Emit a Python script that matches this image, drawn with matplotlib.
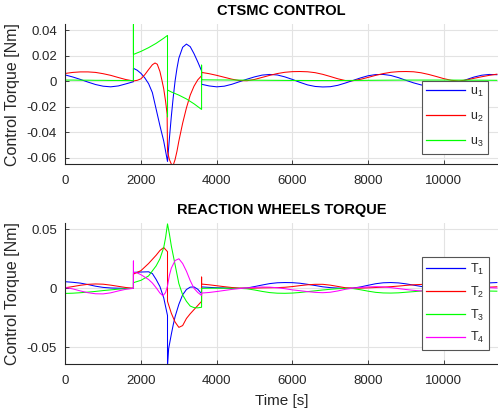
import matplotlib
matplotlib.use("Agg")
import matplotlib.pyplot as plt

plt.rcParams["font.family"] = ["Liberation Sans", "DejaVu Sans"]
plt.rcParams["mathtext.fontset"] = "custom"
plt.rcParams["mathtext.rm"] = "Liberation Sans"
plt.rcParams["mathtext.it"] = "Liberation Sans:italic"

# sample grids (s)
t_pre = list(range(0, 1801, 200))
t_post = list(range(3600, 11401, 200))

# ---- CTSMC control torques [Nm] ----
u1_t = t_pre + [1800, 1900, 2000, 2100, 2200, 2300, 2400, 2500, 2600, 2700,
                2750, 2800, 2850, 2900, 2950, 3000, 3100, 3200, 3300, 3400, 3500, 3600] + t_post
u1_v = [0.0048, 0.0032, 0.0013, -0.0008, -0.0027, -0.0040, -0.0045, -0.0038, -0.0022, -0.0005,
        0.0100, 0.0085, 0.0060, 0.0025, -0.0020, -0.0090, -0.0220, -0.0350, -0.0470, -0.0630,
        -0.0450, -0.0280, -0.0130, 0.0000, 0.0100, 0.0180, 0.0265, 0.0290, 0.0270, 0.0215, 0.0150, 0.0080,
        -0.0025, -0.0038, -0.0045, -0.0040, -0.0025, -0.0005, 0.0015, 0.0033, 0.0047, 0.0052,
        0.0048, 0.0033, 0.0013, -0.0010, -0.0030, -0.0042, -0.0046, -0.0044, -0.0033, -0.0015,
        0.0005, 0.0025, 0.0042, 0.0051, 0.0052, 0.0044, 0.0027, 0.0006, -0.0014, -0.0030,
        -0.0040, -0.0044, -0.0040, -0.0028, -0.0010, 0.0012, 0.0032, 0.0046, 0.0052, 0.0050]

u2_t = t_pre + [1900, 2000, 2100, 2200, 2300, 2370, 2430, 2500, 2550, 2600, 2650, 2690, 2700,
                2750, 2800, 2850, 2900, 2950, 3000, 3100, 3200, 3300, 3400, 3500, 3600] + t_post
u2_v = [0.0060, 0.0068, 0.0072, 0.0072, 0.0068, 0.0058, 0.0045, 0.0028, 0.0012, 0.0001,
        0.0006, 0.0018, 0.0050, 0.0090, 0.0128, 0.0142, 0.0132, 0.0075, 0.0010, -0.0060, -0.0160, -0.0260,
        -0.0550, -0.0615, -0.0650, -0.0660, -0.0615, -0.0550, -0.0470, -0.0330, -0.0210, -0.0110,
        -0.0040, 0.0010, 0.0042,
        0.0068, 0.0058, 0.0045, 0.0030, 0.0015, 0.0004, 0.0003, 0.0013, 0.0029, 0.0045,
        0.0059, 0.0069, 0.0074, 0.0075, 0.0073, 0.0066, 0.0053, 0.0036, 0.0018, 0.0004,
        0.0003, 0.0014, 0.0029, 0.0045, 0.0059, 0.0069, 0.0074, 0.0075, 0.0073, 0.0065,
        0.0052, 0.0036, 0.0019, 0.0006, 0.0001, 0.0009, 0.0022, 0.0034, 0.0045, 0.0054]

u3_t = t_pre + [1800, 1800, 2000, 2200, 2400, 2600, 2700, 2700, 2700, 2800, 3000, 3200, 3400, 3600, 3600,
                3600, 4000, 5000, 6000, 7000, 8000, 9000, 10000, 11000, 11400]
u3_v = [0.0008, 0.0008, 0.0007, 0.0007, 0.0006, 0.0006, 0.0005, 0.0005, 0.0004, 0.0004,
        0.0445, 0.0209, 0.0233, 0.0262, 0.0296, 0.0336, 0.0358, -0.0280, -0.0070, -0.0085,
        -0.0110, -0.0140, -0.0178, -0.0222, 0.0125,
        0.0010, 0.0009, 0.0007, 0.0005, 0.0004, 0.0006, 0.0008, 0.0008, 0.0007, 0.0006]

# ---- reaction wheel torques [Nm] ----
T1_t = t_pre + [1800, 2000, 2200, 2300, 2400, 2500, 2600, 2700, 2700, 2730, 2800, 2850, 2900,
                3000, 3100, 3200, 3300, 3400, 3500, 3600] + t_post
T1_v = [0.0056, 0.0051, 0.0044, 0.0032, 0.0018, 0.0008, 0.0003, 0.0001, 0.0000, 0.0000,
        0.0135, 0.0138, 0.0140, 0.0125, 0.0075, 0.0015, -0.0080, -0.0230, -0.0660, -0.0510,
        -0.0390, -0.0310, -0.0240, -0.0135, -0.0055, -0.0010, 0.0010, 0.0012, -0.0008, -0.0045,
        0.0012, 0.0008, 0.0005, 0.0003, 0.0001, 0.0000, 0.0003, 0.0015, 0.0028, 0.0040,
        0.0047, 0.0049, 0.0048, 0.0043, 0.0034, 0.0024, 0.0013, 0.0006, 0.0002, 0.0000,
        0.0002, 0.0012, 0.0026, 0.0039, 0.0047, 0.0049, 0.0046, 0.0038, 0.0027, 0.0016,
        0.0008, 0.0003, 0.0001, 0.0000, 0.0001, 0.0010, 0.0025, 0.0038, 0.0046, 0.0049]

T2_t = t_pre + [1800, 2000, 2200, 2400, 2500, 2600, 2700, 2700, 2800, 2900, 3000, 3100, 3200,
                3300, 3400, 3500, 3600, 3600] + t_post
T2_v = [0.0005, 0.0015, 0.0026, 0.0034, 0.0037, 0.0035, 0.0027, 0.0017, 0.0007, 0.0000,
        0.0120, 0.0150, 0.0210, 0.0280, 0.0320, 0.0345, 0.0310, -0.0110, -0.0210, -0.0285,
        -0.0330, -0.0315, -0.0255, -0.0215, -0.0180, -0.0145, -0.0110, 0.0095,
        0.0036, 0.0030, 0.0022, 0.0014, 0.0007, 0.0002, 0.0001, 0.0002, 0.0004, 0.0005,
        0.0006, 0.0009, 0.0015, 0.0023, 0.0030, 0.0034, 0.0034, 0.0027, 0.0016, 0.0005,
        0.0001, 0.0002, 0.0004, 0.0007, 0.0010, 0.0014, 0.0019, 0.0025, 0.0030, 0.0033,
        0.0034, 0.0030, 0.0021, 0.0009, 0.0001, 0.0002, 0.0004, 0.0007, 0.0010, 0.0013]

T3_t = t_pre + [1800, 2000, 2200, 2400, 2500, 2600, 2650, 2700, 2750, 2800, 2900, 3000, 3100,
                3200, 3300, 3400, 3500, 3600] + t_post
T3_v = [-0.0043, -0.0041, -0.0037, -0.0032, -0.0026, -0.0019, -0.0013, -0.0007, -0.0003, 0.0000,
        0.0048, 0.0068, 0.0105, 0.0190, 0.0250, 0.0345, 0.0430, 0.0545, 0.0460, 0.0360,
        0.0200, 0.0040, -0.0055, -0.0110, -0.0150, -0.0163, -0.0165, -0.0160,
        0.0000, 0.0001, 0.0001, 0.0001, 0.0000, 0.0000, -0.0004, -0.0014, -0.0026, -0.0036,
        -0.0041, -0.0042, -0.0040, -0.0035, -0.0028, -0.0021, -0.0014, -0.0008, -0.0003, -0.0001,
        -0.0002, -0.0012, -0.0024, -0.0034, -0.0039, -0.0040, -0.0038, -0.0033, -0.0028, -0.0023,
        -0.0017, -0.0010, -0.0005, -0.0001, -0.0001, -0.0006, -0.0014, -0.0020, -0.0023, -0.0024]

T4_t = t_pre + [1800, 1800, 1900, 2000, 2100, 2200, 2300, 2400, 2500, 2580, 2650, 2700, 2750, 2800,
                2900, 3000, 3100, 3200, 3300, 3400, 3500, 3600] + t_post
T4_v = [0.0008, -0.0005, -0.0022, -0.0037, -0.0046, -0.0047, -0.0038, -0.0022, -0.0008, 0.0000,
        0.0231, 0.0136, 0.0130, 0.0115, 0.0095, 0.0075, 0.0045, 0.0005, -0.0040, -0.0063,
        -0.0035, 0.0020, 0.0110, 0.0170, 0.0235, 0.0250, 0.0210, 0.0145, 0.0065, 0.0000,
        -0.0035, -0.0060,
        -0.0040, -0.0035, -0.0027, -0.0018, -0.0009, -0.0002, 0.0003, 0.0008, 0.0011, 0.0010,
        0.0005, -0.0003, -0.0013, -0.0020, -0.0028, -0.0034, -0.0037, -0.0033, -0.0022, -0.0008,
        0.0002, 0.0008, 0.0012, 0.0014, 0.0012, 0.0006, -0.0002, -0.0010, -0.0017, -0.0022,
        -0.0024, -0.0021, -0.0014, -0.0005, 0.0001, 0.0006, 0.0009, 0.0009, 0.0006, 0.0003]

x_ticks = [0, 2000, 4000, 6000, 8000, 10000]
top_yticks = [-0.06, -0.04, -0.02, 0, 0.02, 0.04]
top_ylabels = ["-0.06", "-0.04", "-0.02", "0", "0.02", "0.04"]
bot_yticks = [-0.05, 0, 0.05]
bot_ylabels = ["-0.05", "0", "0.05"]

DARK = "#262626"
GREEN = "#00ff00"


def style(ax, ylim, yticks, ylabels, title):
    ax.set_xlim(0, 11430)
    ax.set_ylim(*ylim)
    ax.set_xticks(x_ticks)
    ax.set_xticklabels([str(x) for x in x_ticks])
    ax.set_yticks(yticks)
    ax.set_yticklabels(ylabels)
    ax.grid(True, color="#e3e3e3", linewidth=0.8)
    ax.set_axisbelow(True)
    for side in ("top", "right"):
        ax.spines[side].set_visible(False)
    for side in ("left", "bottom"):
        ax.spines[side].set_color(DARK)
        ax.spines[side].set_linewidth(0.8)
    ax.tick_params(direction="in", length=3, width=0.6, colors=DARK, labelsize=9.5)
    ax.tick_params(axis="x", pad=8)
    ax.tick_params(axis="y", pad=6)
    ax.set_ylabel("Control Torque [Nm]", fontsize=11.5, color=DARK, labelpad=5)
    ax.set_title(title, fontsize=10.5, fontweight="bold", color="black", pad=7)


fig = plt.figure(figsize=(4.98, 4.08), dpi=100)
ax1 = fig.add_axes([0.1311, 0.5980, 0.8689, 0.3424])
ax2 = fig.add_axes([0.1311, 0.1078, 0.8689, 0.3449])

lw = 0.75
top_colors = ["blue", "red", GREEN]
ax1.plot(u1_t, u1_v, color=top_colors[0], lw=lw, label="u$_{1}$")
ax1.plot(u2_t, u2_v, color=top_colors[1], lw=lw, label="u$_{2}$")
ax1.plot(u3_t, u3_v, color=top_colors[2], lw=lw, label="u$_{3}$")
style(ax1, (-0.065, 0.0445), top_yticks, top_ylabels, "CTSMC CONTROL")

bot_colors = ["blue", "red", GREEN, "magenta"]
ax2.plot(T1_t, T1_v, color=bot_colors[0], lw=lw, label="T$_{1}$")
ax2.plot(T2_t, T2_v, color=bot_colors[1], lw=lw, label="T$_{2}$")
ax2.plot(T3_t, T3_v, color=bot_colors[2], lw=lw, label="T$_{3}$")
ax2.plot(T4_t, T4_v, color=bot_colors[3], lw=lw, label="T$_{4}$")
style(ax2, (-0.064, 0.055), bot_yticks, bot_ylabels, "REACTION WHEELS TORQUE")
ax2.set_xlabel("Time [s]", fontsize=11, color=DARK, labelpad=5)

legend_specs = [
    (ax1, (421.7 / 498, 1 - 81 / 408), top_colors, 0.95),
    (ax2, (421.7 / 498, 1 - 257 / 408), bot_colors, 0.62),
]
for ax, anchor, colors, spacing in legend_specs:
    leg = ax.legend(loc="upper left", bbox_to_anchor=anchor, bbox_transform=fig.transFigure,
                    fontsize=9, handlelength=3.05, handletextpad=0.4, borderpad=0.38,
                    labelspacing=spacing, borderaxespad=0, fancybox=False, framealpha=1)
    leg.get_frame().set_edgecolor("#555555")
    leg.get_frame().set_linewidth(0.8)
    for h, c in zip(leg.legend_handles, colors):
        h.set_color(c)
        h.set_linewidth(0.9)
    for txt in leg.get_texts():
        txt.set_color(DARK)

fig.savefig("out.png", dpi=100)
